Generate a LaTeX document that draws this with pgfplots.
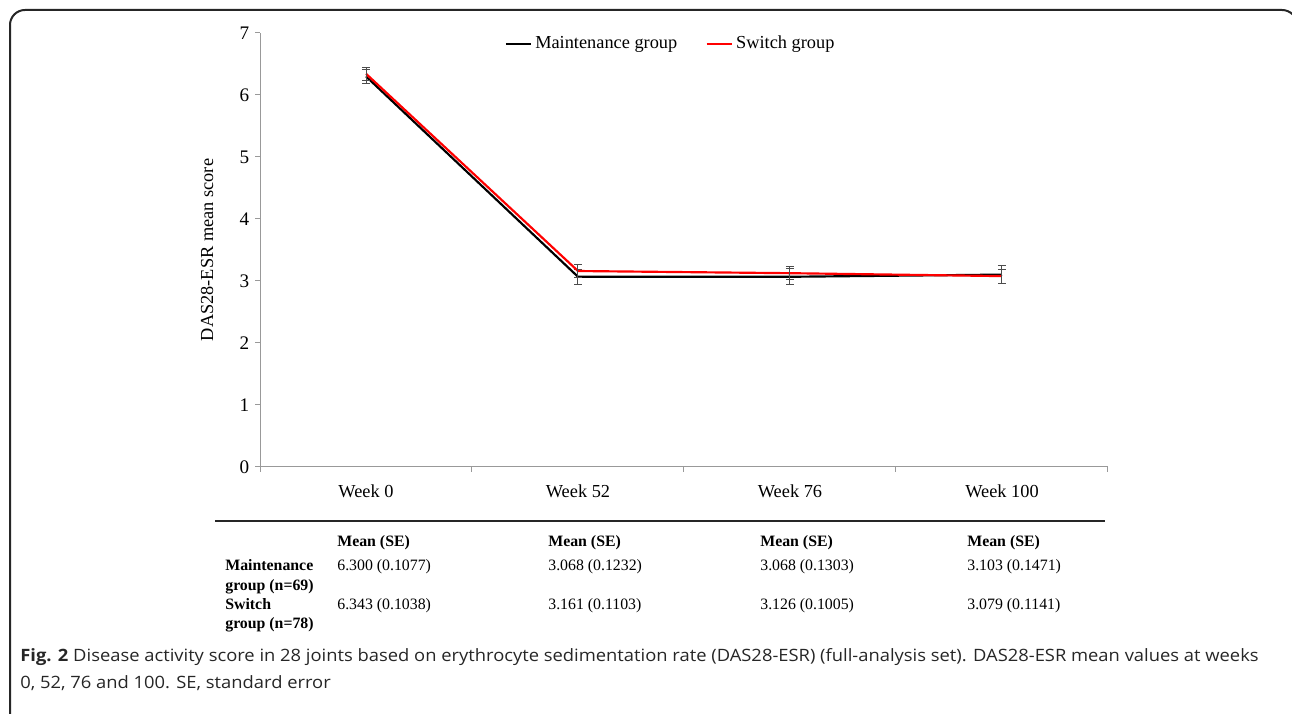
\documentclass[border=0pt]{standalone}
\usepackage{fontspec}
\setmainfont{Liberation Serif}
\newfontfamily\capfont[FakeStretch=1.08]{Open Sans}
\usepackage{pgfplots}
\pgfplotsset{compat=1.18}
\begin{document}
\begin{tikzpicture}[x=0.6pt,y=0.6pt]
\clip (0,0) rectangle (1292,714);
\draw[line width=1.2pt, color=black!85, rounded corners=9pt] (10,-20) -- (10,704) -- (1297,704) -- (1297,-20);
\begin{axis}[at={(156pt,148.2pt)}, anchor=south west, scale only axis,
  width=508.8pt, height=260.4pt,
  xmin=-0.5, xmax=3.5, ymin=0, ymax=7,
  axis lines*=left,
  axis line style={color=black!40, line width=0.6pt},
  xtick={0,1,2,3}, xticklabels={Week 0, Week 52, Week 76, Week 100},
  minor xtick={-0.5,0.5,1.5,2.5,3.5},
  major x tick style={draw=none},
  ytick={0,1,...,7},
  /pgf/number format/assume math mode=true,
  tick align=outside,
  major tick length=3pt, minor tick length=3pt,
  tick style={color=black!40, line width=0.6pt},
  tick label style={font=\fontsize{11}{13}\selectfont},
  yticklabel style={font=\fontsize{11.5}{13}\selectfont},
  xticklabel style={yshift=-4pt},
  legend style={at={(0.485,0.975)}, anchor=center, draw=none, fill=none,
     legend columns=2, font=\fontsize{11}{13}\selectfont,
     /tikz/every even column/.append style={column sep=15pt}},
  legend image code/.code={\draw[#1] (0pt,0pt) -- (15pt,0pt);},
  legend cell align=left,
]
\addplot[black, line width=1.3pt,
  error bars/.cd, y dir=both, y explicit,
  error bar style={color=black!70, line width=0.6pt},
  error mark options={color=black!70, mark size=2.4pt, line width=0.6pt, rotate=90}]
  coordinates {(0,6.300) +- (0,0.1077) (1,3.068) +- (0,0.1232) (2,3.068) +- (0,0.1303) (3,3.103) +- (0,0.1471)};
\addlegendentry{Maintenance group}
\addplot[red, line width=1.3pt,
  error bars/.cd, y dir=both, y explicit,
  error bar style={color=black!70, line width=0.6pt},
  error mark options={color=black!70, mark size=2.4pt, line width=0.6pt, rotate=90}]
  coordinates {(0,6.343) +- (0,0.1038) (1,3.161) +- (0,0.1103) (2,3.126) +- (0,0.1005) (3,3.079) +- (0,0.1141)};
\addlegendentry{Switch group}
\end{axis}
\node[rotate=90, font=\fontsize{11}{13}\selectfont] at (207,464) {DAS28-ESR mean score};
\draw[line width=0.9pt, black!85] (215,193) -- (1105,193);
\begin{scope}[every node/.style={anchor=base west, inner sep=0pt, font=\fontsize{9.5}{11}\selectfont}]
\node[font=\fontsize{9.5}{11}\selectfont\bfseries] at (337,167) {Mean (SE)};
\node[font=\fontsize{9.5}{11}\selectfont\bfseries] at (548,167) {Mean (SE)};
\node[font=\fontsize{9.5}{11}\selectfont\bfseries] at (760,167) {Mean (SE)};
\node[font=\fontsize{9.5}{11}\selectfont\bfseries] at (967,167) {Mean (SE)};
\node[font=\fontsize{9.5}{11}\selectfont\bfseries] at (225,143) {Maintenance};
\node[font=\fontsize{9.5}{11}\selectfont\bfseries] at (225,123) {group (n=69)};
\node[font=\fontsize{9.5}{11}\selectfont\bfseries] at (225,104) {Switch};
\node[font=\fontsize{9.5}{11}\selectfont\bfseries] at (225,85) {group (n=78)};
\node at (337,143) {6.300 (0.1077)};
\node at (548,143) {3.068 (0.1232)};
\node at (760,143) {3.068 (0.1303)};
\node at (967,143) {3.103 (0.1471)};
\node at (337,104) {6.343 (0.1038)};
\node at (548,104) {3.161 (0.1103)};
\node at (760,104) {3.126 (0.1005)};
\node at (967,104) {3.079 (0.1141)};
\end{scope}
\begin{scope}[every node/.style={anchor=base west, inner sep=0pt, font=\capfont\fontsize{10.2}{13}\selectfont, text=black!85}]
\node at (20,52) {\textbf{Fig. 2} Disease activity score in 28 joints based on erythrocyte sedimentation rate (DAS28-ESR) (full-analysis set). DAS28-ESR mean values at weeks};
\node at (20,25) {0, 52, 76 and 100. SE, standard error};
\end{scope}
\end{tikzpicture}
\end{document}
